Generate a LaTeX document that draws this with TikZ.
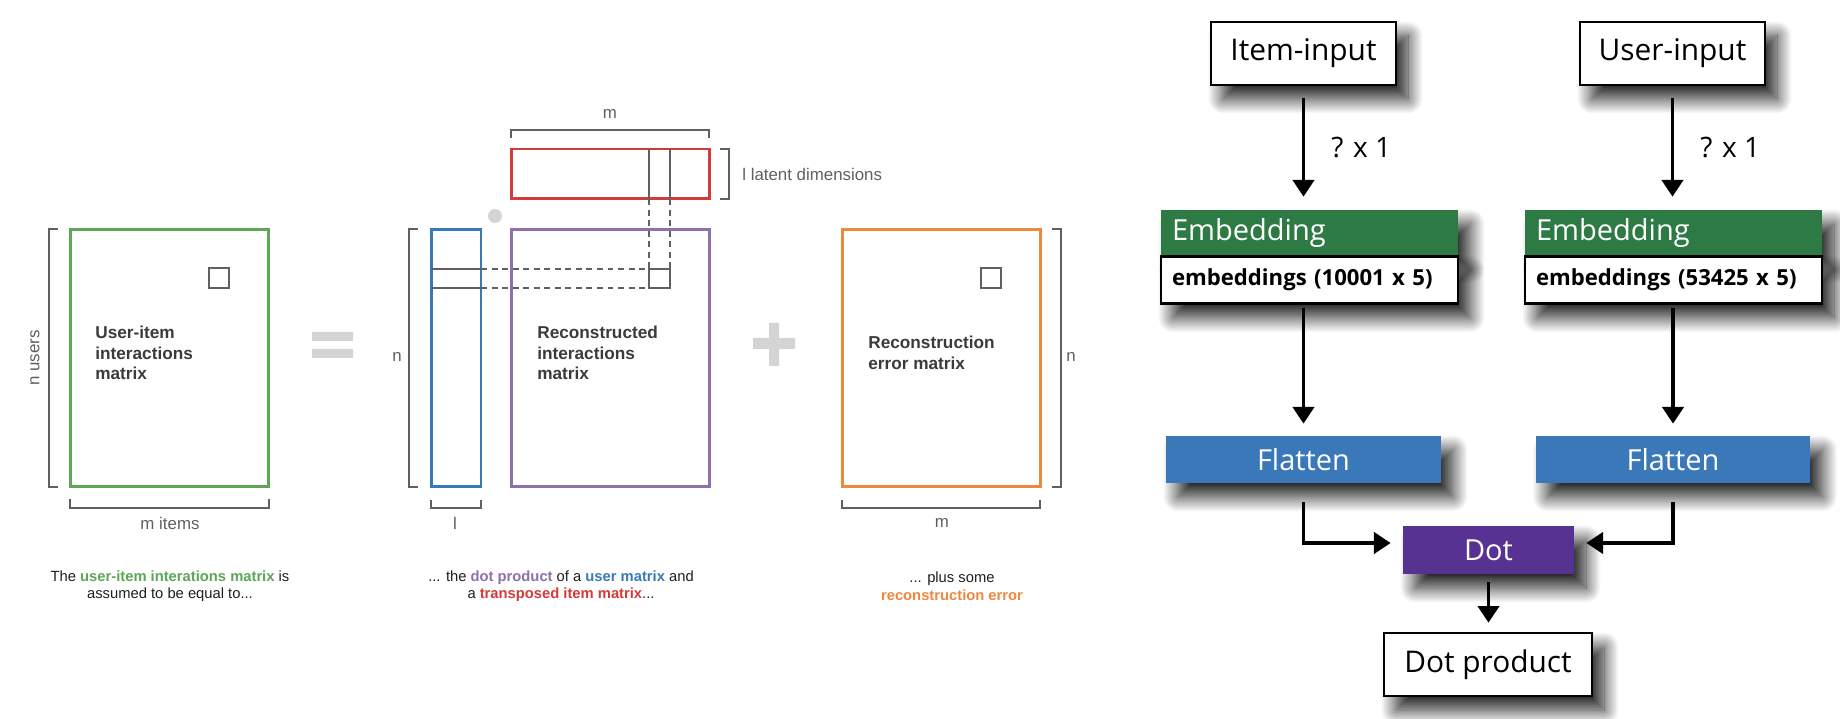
\documentclass[tikz,border=0pt]{standalone}
\usepackage{fontspec}
\setmainfont{Liberation Sans}
\newfontfamily\segoe{Open Sans}
\usetikzlibrary{arrows.meta,shadows.blur}

\definecolor{mgreen}{RGB}{92,166,86}
\definecolor{mblue}{RGB}{56,122,184}
\definecolor{mpurple}{RGB}{142,112,172}
\definecolor{mred}{RGB}{212,58,56}
\definecolor{morange}{RGB}{238,136,62}
\definecolor{mgrey}{RGB}{96,96,96}
\definecolor{mtext}{RGB}{58,58,58}
\definecolor{captext}{RGB}{30,30,30}
\definecolor{symgrey}{RGB}{212,212,212}
\definecolor{embgreen}{RGB}{46,122,68}
\definecolor{flatblue}{RGB}{58,120,186}
\definecolor{dotpurple}{RGB}{88,50,146}

\begin{document}
\begin{tikzpicture}[x=0.02cm, y=-0.02cm]
    \tikzset{matrix box/.style={draw, line width=1.7pt, inner sep=0pt, minimum width=3.98cm, minimum height=5.16cm},
        bracket/.style={draw=mgrey, line width=1pt},
        cell/.style={draw=mgrey, line width=1pt},
        dim label/.style={text=mgrey, inner sep=0pt, font=\fontsize{9.6}{11}\selectfont},
        mat label/.style={text=mtext, anchor=west, align=left, inner sep=0pt, font=\fontsize{9.8}{11.7}\selectfont\bfseries},
        caption/.style={text=captext, align=center, font=\fontsize{8.4}{10}\selectfont},
        shade box/.style={blur shadow={shadow xshift=0.24cm, shadow yshift=-0.28cm, shadow blur radius=0.3cm, shadow blur steps=24, shadow opacity=88}},
        io box/.style={draw, line width=1.5pt, fill=white, shade box, minimum width=3.7cm, minimum height=1.26cm, font=\segoe\fontsize{17}{20}\selectfont},
        emb head/.style={fill=embgreen, text=white, shade box, inner xsep=0.22cm, text width=5.5cm, minimum height=0.9cm, align=left, font=\segoe\fontsize{16.5}{20}\selectfont},
        emb body/.style={draw, line width=1.5pt, fill=white, shade box, inner xsep=0.22cm, text width=5.5cm, minimum height=0.94cm, align=left, font=\segoe\bfseries\fontsize{12.6}{16}\selectfont},
        flat box/.style={fill=flatblue, text=white, shade box, minimum width=5.5cm, minimum height=0.94cm, font=\segoe\fontsize{16.5}{20}\selectfont},
        dot box/.style={fill=dotpurple, text=white, shade box, minimum width=3.42cm, minimum height=0.96cm, font=\segoe\fontsize{16.5}{20}\selectfont},
        flow/.style={-{Triangle[length=9.5pt, width=12pt]}, line width=2.2pt},
        size label/.style={font=\segoe\fontsize{16}{20}\selectfont}}
    \useasboundingbox (0,0) rectangle (1840,719);

    \node[matrix box, draw=mgreen] (uim) at (169.5,358) {};
    \node[mat label] (uimtext) at (95,353) {User-item\\interactions\\matrix};
    \draw[cell] (209,268) rectangle (229,288);
    \draw[bracket] (58,229) -- (49,229) -- (49,487) -- (58,487);
    \node[dim label, rotate=90] (nusers) at (35,358) {n users};
    \draw[bracket] (70,499) -- (70,508) -- (269,508) -- (269,499);
    \node[dim label] (mitems) at (170,523) {m items};
    \fill[symgrey] (312,332) rectangle (353,341) (312,349) rectangle (353,358);

    \node[matrix box, draw=mblue, minimum width=1cm] (um) at (456,358) {};
    \node[matrix box, draw=mpurple] (rim) at (610.5,358) {};
    \node[matrix box, draw=mred, minimum height=1cm] (tim) at (610.5,174) {};
    \node[mat label] (rimtext) at (537,353) {Reconstructed\\interactions\\matrix};
    \fill[symgrey] (495,216) circle[radius=0.14cm];
    \draw[cell] (431,269) -- (481,269) (431,288) -- (481,288);
    \draw[cell] (649,149) -- (649,199) (670,149) -- (670,199);
    \draw[cell, dash pattern=on 3.4pt off 2.6pt] (481,269) -- (649,269) (481,288) -- (649,288)
        (649,199) -- (649,269) (670,199) -- (670,269);
    \draw[cell] (649,269) rectangle (670,288);
    \draw[bracket] (418,229) -- (409,229) -- (409,487) -- (418,487);
    \node[dim label] (nrows) at (397,357) {n};
    \draw[bracket] (431,500) -- (431,508) -- (481,508) -- (481,500);
    \node[dim label] (lcols) at (455,523) {l};
    \draw[bracket] (511,138) -- (511,130) -- (709,130) -- (709,138);
    \node[dim label] (mtop) at (610,114) {m};
    \draw[bracket] (720,149) -- (729,149) -- (729,199) -- (720,199);
    \node[dim label, anchor=west] (latent) at (742,174) {l latent dimensions};
    \fill[symgrey] (753,338) rectangle (795,349) (769,323) rectangle (779,366);

    \node[matrix box, draw=morange] (rem) at (941.5,358) {};
    \node[mat label] (remtext) at (868,353) {Reconstruction\\error matrix};
    \draw[cell] (981,268) rectangle (1001,288);
    \draw[bracket] (1052,229) -- (1061,229) -- (1061,487) -- (1052,487);
    \node[dim label] (nright) at (1071,357) {n};
    \draw[bracket] (842,500) -- (842,508) -- (1040,508) -- (1040,500);
    \node[dim label] (mright) at (942,523) {m};

    \node[caption] (cap1) at (170,586) {The \textcolor{mgreen}{\textbf{user-item interations matrix}} is\\assumed to be equal to...};
    \node[caption] (cap2) at (561,586) {... the \textcolor{mpurple}{\textbf{dot product}} of a \textcolor{mblue}{\textbf{user matrix}} and\\a \textcolor{mred}{\textbf{transposed item matrix}}...};
    \node[caption] (cap3) at (952,586) {... plus some\\\textcolor{morange}{\textbf{reconstruction error}}};

    \node[io box] (iin) at (1303.5,53.5) {Item-input};
    \node[io box] (uin) at (1672.5,53.5) {User-input};
    \node[emb head] (iembh) at (1309.5,232.5) {Embedding};
    \node[emb body, anchor=north] (iemb) at (iembh.south) {embeddings (10001 x 5)};
    \node[emb head] (uembh) at (1673.5,232.5) {Embedding};
    \node[emb body, anchor=north] (uemb) at (uembh.south) {embeddings (53425 x 5)};
    \node[flat box] (ifl) at (1303.5,459.5) {Flatten};
    \node[flat box] (ufl) at (1673,459.5) {Flatten};
    \node[dot box] (dot) at (1488.5,550) {Dot};
    \node[io box, minimum width=4.16cm] (dp) at (1488,664.5) {Dot product};

    \draw[flow, shorten <=0.24cm, shorten >=0.26cm] (iin.south) -- (iin.south |- iembh.north) node[midway, right=0.4cm, size label] {? x 1};
    \draw[flow, shorten <=0.24cm, shorten >=0.26cm] (uin.south) -- (uin.south |- uembh.north) node[midway, right=0.4cm, size label] {? x 1};
    \draw[flow, shorten <=0.06cm, shorten >=0.24cm] (ifl.north |- iemb.south) -- (ifl.north);
    \draw[flow, shorten <=0.06cm, shorten >=0.24cm] (ufl.north |- uemb.south) -- (ufl.north);
    \draw[flow, shorten <=0.38cm, shorten >=0.24cm] (ifl.south) |- ([yshift=0.14cm]dot.west);
    \draw[flow, shorten <=0.38cm, shorten >=0.24cm] (ufl.south) |- ([yshift=0.14cm]dot.east);
    \draw[flow, shorten <=0.16cm, shorten >=0.18cm] (dot.south) -- (dot.south |- dp.north);
\end{tikzpicture}
\end{document}
